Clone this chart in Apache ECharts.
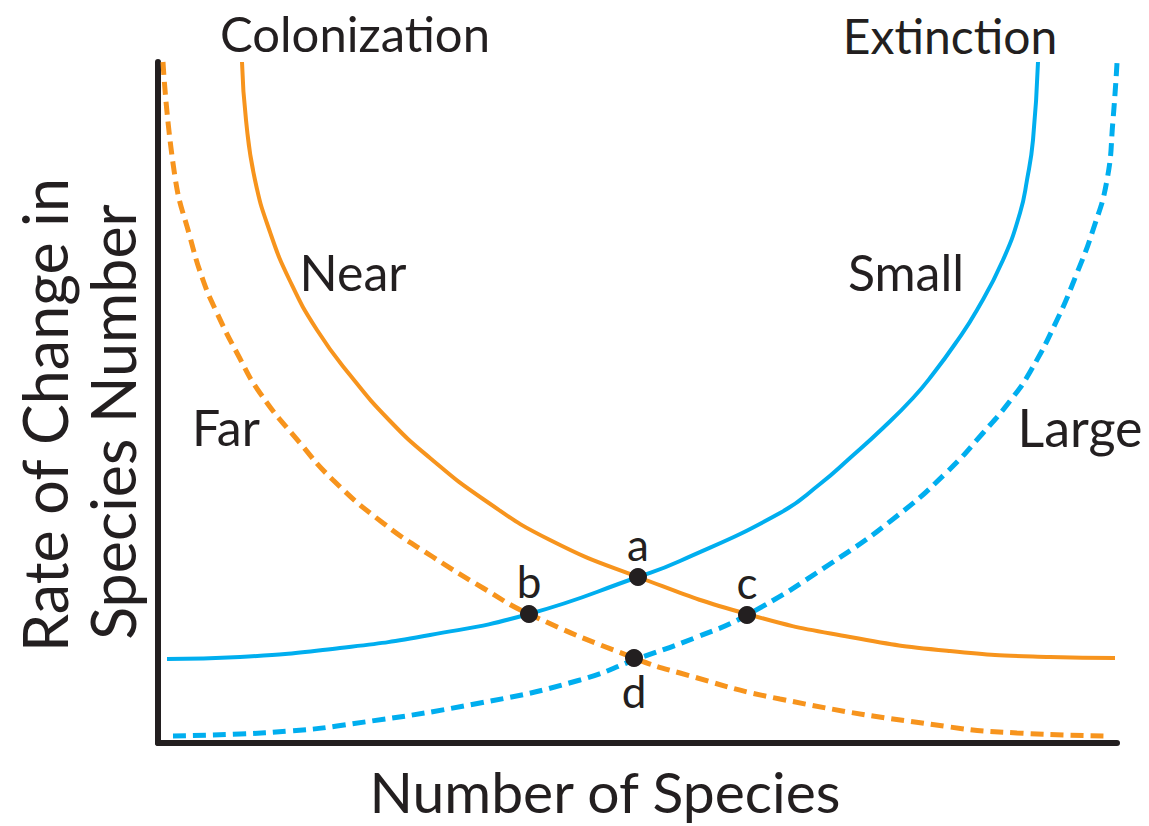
<!DOCTYPE html>
<html>
<head>
<meta charset="utf-8">
<title>Island biogeography</title>
<script src="https://cdn.jsdelivr.net/npm/echarts@6/dist/echarts.min.js"></script>
<style>
  html, body { margin: 0; padding: 0; background: #fff; }
  #chart { width: 1149px; height: 826px; }
</style>
</head>
<body>
<div id="chart"></div>
<script>
// curves: [number of species, rate]
const nearColonization = [
  [84, 681], [88, 623], [97, 563], [112, 511], [132, 462], [159, 413], [192, 368],
  [232, 322], [272, 285], [325, 244], [392, 203], [480, 166], [589, 129], [692, 106],
  [792, 92], [892, 86], [957, 85]
];
const farColonization = [
  [5, 681], [17, 566], [32, 506], [45, 463], [59, 430], [79, 390], [102, 350],
  [142, 300], [175, 263], [225, 220], [275, 186], [325, 155], [371, 129], [476, 85],
  [522, 70], [622, 44], [792, 16], [859, 10], [952, 7]
];
const smallExtinction = [
  [9, 84], [82, 86], [182, 95], [272, 108], [371, 129], [480, 166], [522, 182],
  [622, 230], [662, 259], [692, 285], [725, 315], [755, 345], [775, 369], [797, 399],
  [819, 433], [845, 483], [862, 530], [869, 563], [875, 603], [880, 681]
];
const largeExtinction = [
  [15, 7], [82, 9], [132, 12], [179, 17], [322, 40], [422, 63], [479, 84], [539, 106],
  [589, 128], [672, 179], [739, 227], [789, 271], [825, 310], [852, 342], [872, 371],
  [899, 423], [919, 470], [935, 513], [949, 563], [955, 623], [959, 680]
];
// equilibrium points
const pointNames = ["a", "b", "c", "d"];
const pointValues = [[480, 166], [371, 129], [589, 128], [476, 85]];

const ORANGE = "#F7941D";
const BLUE = "#00AEEF";
const INK = "#231F20";
const FONT = "Lato";

const chart = echarts.init(document.getElementById("chart"), null, { renderer: "svg" });

const txt = (text, x, y, size, rot) => ({
  type: "text",
  x: x, y: y,
  rotation: rot || 0,
  style: { text: text, fill: INK, font: `${size}px ${FONT}`, textAlign: "center", textVerticalAlign: "middle" }
});

const curve = (name, data, color, dashed) => ({
  name: name,
  type: "line",
  data: data,
  smooth: 0.5,
  showSymbol: false,
  silent: true,
  lineStyle: { color: color, width: dashed ? 5 : 4, type: dashed ? [13, 7] : "solid" },
  z: dashed ? 2 : 3
});

chart.setOption({
  backgroundColor: "#fff",
  animation: false,
  grid: { left: 158, right: 32, top: 62, bottom: 83, containLabel: false, outerBoundsMode: "none" },
  xAxis: {
    type: "value", min: 0, max: 959,
    axisLine: { lineStyle: { color: INK, width: 6 } },
    axisTick: { show: false }, axisLabel: { show: false }, splitLine: { show: false }
  },
  yAxis: {
    type: "value", min: 0, max: 681,
    axisLine: { lineStyle: { color: INK, width: 6 } },
    axisTick: { show: false }, axisLabel: { show: false }, splitLine: { show: false }
  },
  graphic: [
    txt("Colonization", 355, 33, 49),
    txt("Extinction", 950, 35, 48),
    txt("Near", 353, 272, 50),
    txt("Small", 906, 272, 50),
    txt("Far", 226, 427, 50),
    txt("Large", 1080, 427, 52),
    // axis titles
    txt("Number of Species", 605, 791, 57),
    txt("Rate of Change in", 44, 415, 61, Math.PI / 2),
    txt("Species Number", 112, 422, 61, Math.PI / 2)
  ],
  series: [
    curve("Near", nearColonization, ORANGE, false),
    curve("Far", farColonization, ORANGE, true),
    curve("Small", smallExtinction, BLUE, false),
    curve("Large", largeExtinction, BLUE, true),
    {
      type: "scatter",
      data: pointValues.map((v, i) => ({
        value: v,
        name: pointNames[i],
        label: { position: pointNames[i] === "d" ? "bottom" : "top" }
      })),
      symbolSize: 18,
      itemStyle: { color: INK, opacity: 1 },
      label: {
        show: true, formatter: p => p.name, color: INK,
        fontSize: 44, fontFamily: FONT, distance: 2
      },
      z: 5
    }
  ]
});
</script>
</body>
</html>
